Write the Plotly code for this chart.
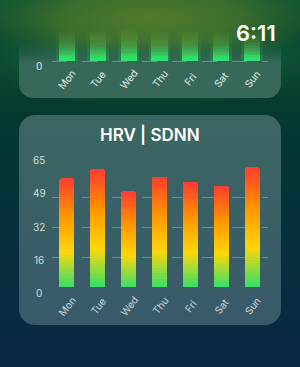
import math
import plotly.graph_objects as go

# ---------------- data ----------------
days = ["Mon", "Tue", "Wed", "Thu", "Fri", "Sat", "Sun"]
hrv_sdnn = [59, 64, 52, 60, 57, 55, 65]          # lower chart bar values
hrv_tick_labels = ["0", "16", "32", "49", "65"]  # y tick labels shown
hrv_tick_values = [0, 16.25, 32.5, 48.75, 65]    # grid positions (evenly spaced)
top_glow = [32, 32, 34, 31, 32, 31, 30]          # visible (clipped) heights of top chart bars
chart_title = "HRV | SDNN"
clock_text = "6:11"

W, H = 300, 367
FONT = "Inter"


def hex_rgba(h, a=1.0):
    h = h.lstrip("#")
    return (int(h[0:2], 16), int(h[2:4], 16), int(h[4:6], 16), a)


def mix(stops, t):
    for (p0, c0), (p1, c1) in zip(stops[:-1], stops[1:]):
        if t <= p1:
            f = 0 if p1 == p0 else (t - p0) / (p1 - p0)
            c = [c0[i] + (c1[i] - c0[i]) * f for i in range(4)]
            return "rgba(%d,%d,%d,%.3f)" % (round(c[0]), round(c[1]), round(c[2]), c[3])
    c = stops[-1][1]
    return "rgba(%d,%d,%d,%.3f)" % c


def rrect(x0, y0, x1, y1, rt, rb, n=10):
    xs, ys = [], []
    corners = [(x1 - rt, y0 + rt, rt, -90, 0), (x1 - rb, y1 - rb, rb, 0, 90),
               (x0 + rb, y1 - rb, rb, 90, 180), (x0 + rt, y0 + rt, rt, 180, 270)]
    for cx, cy, r, a0, a1 in corners:
        for k in range(n + 1):
            a = math.radians(a0 + (a1 - a0) * k / n)
            xs.append(cx + r * math.cos(a))
            ys.append(cy + r * math.sin(a))
    xs.append(xs[0]); ys.append(ys[0])
    return xs, ys


def ellipse(cx, cy, rx, ry, n=60):
    xs = [cx + rx * math.cos(2 * math.pi * k / n) for k in range(n + 1)]
    ys = [cy + ry * math.sin(2 * math.pi * k / n) for k in range(n + 1)]
    return xs, ys


fig = go.Figure()

# ---------------- background (pixel axes x/y) ----------------
bg = dict(xaxis="x", yaxis="y", mode="none", fill="toself", hoverinfo="skip", showlegend=False)
fig.add_trace(go.Scatter(x=[0, W, W, 0, 0], y=[0, 0, H, H, 0],
                         fillgradient=dict(type="vertical", start=0, stop=H, colorscale=[
                             [0, "#0f5532"], [0.12, "#0b4a30"], [0.3, "#063a2e"],
                             [0.55, "#053238"], [0.8, "#092b40"], [1, "#0b2842"]]), **bg))
ex, ey = ellipse(150, 60, 180, 48)
fig.add_trace(go.Scatter(x=ex, y=ey, fillgradient=dict(type="radial", colorscale=[
    [0, "rgba(50,160,90,0.4)"], [0.6, "rgba(40,140,80,0.25)"], [1, "rgba(30,120,70,0)"]]), **bg))
ex, ey = ellipse(150, 18, 170, 48)
fig.add_trace(go.Scatter(x=ex, y=ey, fillgradient=dict(type="radial", colorscale=[
    [0, "rgba(90,128,40,0.9)"], [0.55, "rgba(80,122,42,0.65)"], [1, "rgba(70,110,40,0)"]]), **bg))

# cards
cx_, cy_ = rrect(19, 30, 281, 98, 0, 14)
fig.add_trace(go.Scatter(x=cx_, y=cy_, fillgradient=dict(type="vertical", start=42, stop=64, colorscale=[
    [0, "rgba(45,96,80,0)"], [1, "rgba(55,104,90,1)"]]), **bg))
cx_, cy_ = rrect(19, 115, 281, 325, 16, 16)
fig.add_trace(go.Scatter(x=cx_, y=cy_, fillgradient=dict(type="vertical", start=115, stop=325, colorscale=[
    [0, "#3b6762"], [1, "#39596a"]]), **bg))

# ---------------- lower chart: gradient bars as stacked slices ----------------
bar_stops = [(0.0, hex_rgba("#34e06a")), (0.33, hex_rgba("#ffd60a")),
             (0.66, hex_rgba("#ff9500")), (1.0, hex_rgba("#ff3b30"))]
N = 40
for i in range(N):
    t = (i + 0.5) / N
    fig.add_trace(go.Bar(x=days, y=[v / N for v in hrv_sdnn], xaxis="x2", yaxis="y2",
                         width=0.49, marker=dict(color=mix(bar_stops, t), line=dict(width=0)),
                         hoverinfo="skip", showlegend=False))

# ---------------- top chart: glowing bar stubs (core + soft halo) ----------------
glow_stops = [(0.0, (45, 230, 110, 1.0)), (0.15, (50, 222, 105, 0.95)),
              (0.35, (70, 200, 90, 0.6)), (0.6, (100, 180, 70, 0.3)), (1.0, (125, 168, 58, 0.0))]
halo_stops = [(0.0, (45, 225, 110, 0.2)), (0.3, (60, 200, 95, 0.15)),
              (0.7, (110, 170, 60, 0.07)), (1.0, (130, 165, 55, 0.0))]
NG = 20
for i in range(NG):
    t = (i + 0.5) / NG
    fig.add_trace(go.Bar(x=days, y=[v / NG for v in top_glow], xaxis="x3", yaxis="y3",
                         width=0.52, marker=dict(color=mix(glow_stops, t), line=dict(width=0),
                                                 cornerradius=0),
                         hoverinfo="skip", showlegend=False))
for i in range(NG):
    t = (i + 0.5) / NG
    fig.add_trace(go.Bar(x=days, y=[v / NG for v in top_glow], xaxis="x4", yaxis="y4",
                         width=0.7, marker=dict(color=mix(halo_stops, t), line=dict(width=0),
                                                cornerradius=0),
                         hoverinfo="skip", showlegend=False))

# ---------------- axes ----------------
inv = dict(visible=False, fixedrange=True, showgrid=False, zeroline=False)
xdom = [51.5 / W, 267.5 / W]
ppu = 120 / 65.0
y2lo, y2hi = -0.3, 65.3
y2dom = [1 - (287.3 - y2lo * ppu) / H, 1 - (287.3 - y2hi * ppu) / H]
y3dom = [1 - 62 / H, 1 - 21 / H]

grid = dict(showgrid=True, gridcolor="rgba(170,195,195,0.45)", gridwidth=1, griddash="15px,15px",
            zeroline=False, showticklabels=False, ticks="", showline=False, fixedrange=True)

fig.update_layout(
    width=W, height=H, margin=dict(l=0, r=0, t=0, b=0),
    paper_bgcolor="#0b3a34", plot_bgcolor="rgba(0,0,0,0)",
    barmode="stack", barcornerradius=2.5, showlegend=False,
    xaxis=dict(range=[0, W], domain=[0, 1], anchor="y", **inv),
    yaxis=dict(range=[H, 0], domain=[0, 1], anchor="x", **inv),
    xaxis2=dict(range=[-0.5, 6.5], domain=xdom, anchor="y2", visible=False, fixedrange=True,
                type="category", categoryarray=days),
    yaxis2=dict(range=[y2lo, y2hi], domain=y2dom, anchor="x2", tickvals=hrv_tick_values, **grid),
    xaxis3=dict(range=[-0.5, 6.5], domain=xdom, anchor="y3", visible=False, fixedrange=True,
                type="category", categoryarray=days),
    yaxis3=dict(range=[-1, 40], domain=y3dom, anchor="x3", tickvals=[0], **grid),
    xaxis4=dict(range=[-0.5, 6.5], domain=xdom, anchor="y4", visible=False, fixedrange=True,
                type="category", categoryarray=days),
    yaxis4=dict(range=[-1, 40], domain=y3dom, anchor="x4", visible=False, fixedrange=True),
)

ann = []
# title and clock
ann.append(dict(text=chart_title, x=150, y=134, xref="x", yref="y", showarrow=False,
                font=dict(family=FONT, size=17, color="#ffffff", weight=600)))
ann.append(dict(text=clock_text, x=256, y=33, xref="x", yref="y", showarrow=False,
                font=dict(family=FONT, size=22, color="#ffffff", weight=600)))
# lower chart y labels (spread slightly wider than the grid, as in the reference)
for v, lab in zip(hrv_tick_values, hrv_tick_labels):
    ann.append(dict(text=lab, x=39, y=293 - v / 65 * 133, xref="x", yref="y", showarrow=False,
                    font=dict(family=FONT, size=10, color="#d3dcdc")))
# lower chart x labels
for d in days:
    ann.append(dict(text=d, x=d, y=305.5, xref="x2", yref="y", showarrow=False, textangle=-52,
                    font=dict(family=FONT, size=10, color="#ccd6d8")))
# top chart labels
ann.append(dict(text="0", x=39, y=66, xref="x", yref="y", showarrow=False,
                font=dict(family=FONT, size=10, color="#e2eae6")))
for d in days:
    ann.append(dict(text=d, x=d, y=79, xref="x3", yref="y", showarrow=False, textangle=-52,
                    font=dict(family=FONT, size=10, color="#e2eae6")))
fig.update_layout(annotations=ann)

fig.write_html("out.html", config={"displayModeBar": False})
